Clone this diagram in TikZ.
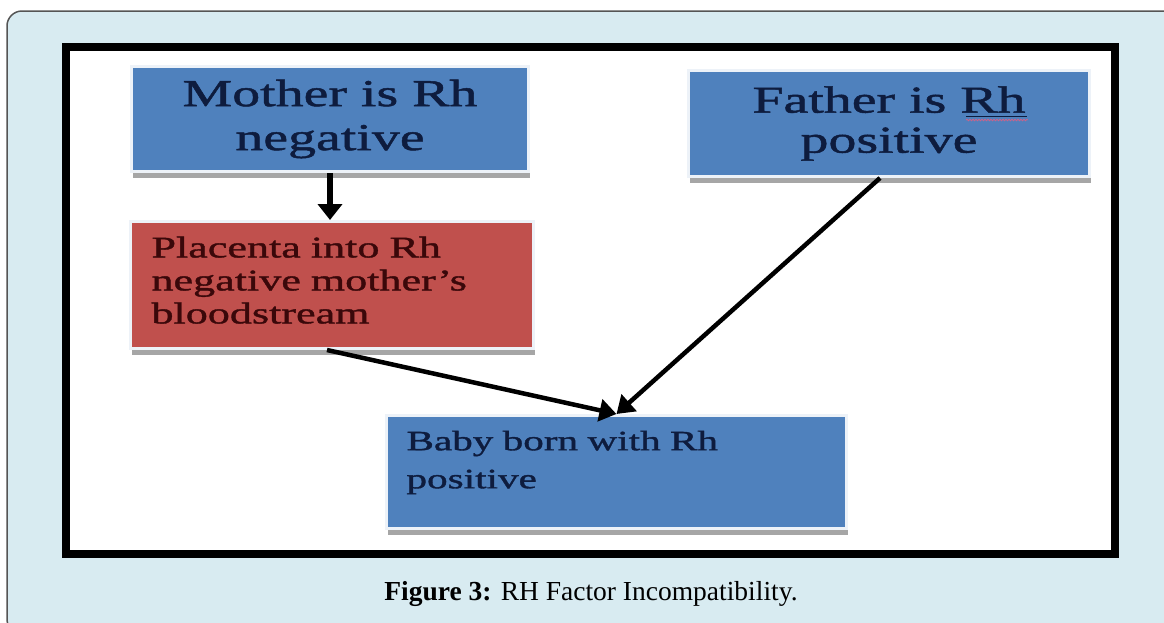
\documentclass[tikz,border=0pt]{standalone}
\usepackage{fontspec}
\setmainfont{Liberation Serif}
\newfontfamily\boxfont[FakeStretch=1.47,FakeBold=1.3]{Liberation Serif}
\usetikzlibrary{arrows.meta,shadows,decorations.pathmorphing}
\definecolor{bgblue}{RGB}{216,235,241}
\definecolor{boxblue}{RGB}{79,129,189}
\definecolor{boxred}{RGB}{192,80,77}
\definecolor{navytext}{RGB}{14,28,62}
\definecolor{redtext}{RGB}{58,8,10}
\definecolor{framegray}{RGB}{85,85,85}
\definecolor{squiggle}{RGB}{200,100,140}
\begin{document}
\begin{tikzpicture}[x=1pt,y=-1pt,
  card/.style={draw=white!90!boxblue, line width=3pt, inner sep=0pt,
    drop shadow={shadow xshift=1pt, shadow yshift=-6pt, fill=black!35, opacity=1}},
  bluecard/.style={card, fill=boxblue, text=navytext},
  redcard/.style={card, fill=boxred, text=redtext},
  arr/.style={draw=black, line width=4.5pt, -{Triangle[length=17pt,width=22pt]}},
  varr/.style={draw=black, line width=6.5pt, -{Triangle[length=16pt,width=24pt]}},
]
\useasboundingbox (0,0) rectangle (1164,622);
\clip (0,0) rectangle (1164,622);
\fill[white] (0,0) rectangle (1164,622);
% outer panel
\draw[fill=bgblue, draw=framegray, line width=1.5pt, rounded corners=15pt] (7,11) rectangle (1200,634);
% black frame
\draw[fill=white, line width=8pt] (66,47) rectangle (1115,554);

% boxes
\node[bluecard, minimum width=397pt, minimum height=105pt, align=center,
      font=\boxfont\fontsize{38}{44}\selectfont] (mother) at (330,119) {Mother is Rh\\negative};
\node[bluecard, minimum width=401pt, minimum height=106pt, align=center,
      font=\boxfont\fontsize{38}{40}\selectfont] (father) at (889,123.5) {Father is Rh\\positive};
\node[redcard, minimum width=403pt, minimum height=127pt, text width=361pt, inner xsep=21pt, align=left,
      font=\boxfont\fontsize{30}{33}\selectfont] (placenta) at (332,285)
      {Placenta into Rh\\negative mother’s\\bloodstream\rule[-10pt]{0pt}{0pt}};
\node[bluecard, minimum width=460pt, minimum height=113pt, text width=420pt, inner xsep=20pt, align=left,
      font=\boxfont\fontsize{28}{38}\selectfont] (baby) at (616.5,472)
      {Baby born with Rh\\positive\rule[-25pt]{0pt}{0pt}};

% spell-check marks under "Rh"
\draw[navytext, line width=0.8pt] (966,116) -- (1027,116);
\draw[squiggle, line width=0.8pt, decorate, decoration={snake, amplitude=0.8pt, segment length=3pt}] (966,120) -- (1028,120);

% connectors
\draw[varr] (mother.south) -- (mother.south |- placenta.north);
\draw[arr] ([xshift=-5pt]placenta.south) -- (baby.north);
\draw[arr] ([xshift=-9pt]father.south) -- (baby.north);

% caption
\node[anchor=base, font=\fontsize{27.5}{30}\selectfont] (caption) at (591,600)
  {\textbf{Figure 3:} RH Factor Incompatibility.};
\end{tikzpicture}
\end{document}
